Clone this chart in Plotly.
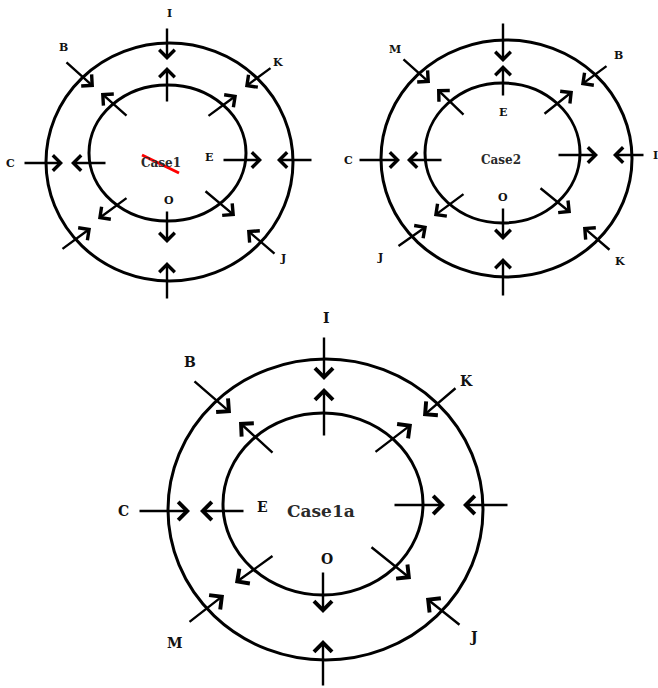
import plotly.graph_objects as go

# ---- Diagram data (pixel-space coordinates) ----
case_names = ["Case1", "Case2", "Case1a"]
case_name_pos = [(161, 163), (501, 160), (321, 511)]
case_name_size = [12, 12, 17]

# outer / inner ellipses: (x0, y0, x1, y1)
outer_rings = [(46, 43, 293, 281), (381, 40, 632, 277), (168, 359, 483, 660)]
inner_rings = [(89, 85, 246, 221), (425, 83, 580, 223), (223, 413, 423, 595)]

# arrows: (x_tail, y_tail, x_head, y_head)
case1_arrows = [
    (167, 27, 167, 60), (167, 103, 167, 67),
    (65, 61, 94, 87), (128, 117, 101, 93),
    (272, 67, 245, 87), (207, 117, 237, 95),
    (23, 163, 63, 163), (107, 163, 71, 163),
    (222, 160, 262, 160), (313, 160, 277, 160),
    (167, 210, 167, 243), (167, 300, 167, 262),
    (128, 197, 98, 219), (61, 250, 91, 228),
    (204, 190, 235, 216), (276, 255, 247, 230),
]
case2_arrows = [
    (503, 22, 503, 62), (503, 97, 503, 65),
    (402, 58, 430, 83), (465, 116, 437, 89),
    (608, 65, 581, 85), (543, 115, 573, 91),
    (358, 160, 400, 160), (443, 160, 407, 160),
    (557, 155, 598, 155), (645, 155, 613, 155),
    (503, 207, 503, 240), (503, 297, 503, 258),
    (465, 193, 434, 216), (397, 247, 427, 226),
    (539, 187, 571, 213), (611, 251, 583, 227),
]
case1a_arrows = [
    (324, 336, 324, 380), (324, 437, 324, 388),
    (193, 380, 231, 413), (274, 454, 239, 422),
    (457, 387, 423, 416), (374, 453, 412, 424),
    (138, 511, 190, 511), (245, 511, 200, 511),
    (393, 505, 445, 505), (509, 505, 463, 505),
    (323, 571, 323, 613), (323, 687, 323, 640),
    (274, 555, 235, 583), (188, 623, 224, 595),
    (370, 546, 411, 579), (461, 626, 426, 598),
]

# point labels
case1_labels = ["I", "B", "K", "C", "E", "O", "J"]
case1_label_pos = [(169, 13), (63, 47), (278, 62), (10, 163), (209, 157), (169, 200), (283, 258)]
case2_labels = ["M", "B", "E", "C", "I", "O", "J", "K"]
case2_label_pos = [(395, 49), (618, 55), (503, 112), (348, 160), (655, 155), (503, 197), (380, 257), (620, 261)]
case1a_labels = ["I", "B", "K", "C", "E", "O", "M", "J"]
case1a_label_pos = [(326, 318), (190, 362), (466, 381), (123, 511), (262, 507), (327, 559), (175, 643), (473, 637)]

strike_line = (142, 155, 179, 173)

FONT = "DejaVu Serif"

fig = go.Figure()
fig.add_trace(go.Scatter(x=[0, 658], y=[0, 688], mode="markers",
                         marker=dict(opacity=0), hoverinfo="skip", showlegend=False))

for rings in (outer_rings, inner_rings):
    for (x0, y0, x1, y1) in rings:
        fig.add_shape(type="circle", xref="x", yref="y", x0=x0, y0=y0, x1=x1, y1=y1,
                      line=dict(color="black", width=3))

for arrows, size in ((case1_arrows, 1.25), (case2_arrows, 1.25), (case1a_arrows, 1.45)):
    for (xt, yt, xh, yh) in arrows:
        fig.add_annotation(x=xh, y=yh, ax=xt, ay=yt, xref="x", yref="y",
                           axref="x", ayref="y", text="", showarrow=True,
                           arrowhead=4, arrowsize=size, arrowwidth=2.4,
                           arrowcolor="black", standoff=0)

for labels, pos, size in ((case1_labels, case1_label_pos, 11),
                          (case2_labels, case2_label_pos, 11),
                          (case1a_labels, case1a_label_pos, 14)):
    for t, (x, y) in zip(labels, pos):
        fig.add_annotation(x=x, y=y, xref="x", yref="y", text=f"<b>{t}</b>",
                           showarrow=False, font=dict(family=FONT, size=size, color="#111"))

for name, (x, y), s in zip(case_names, case_name_pos, case_name_size):
    fig.add_annotation(x=x, y=y, xref="x", yref="y", text=f"<b>{name}</b>",
                       showarrow=False, font=dict(family=FONT, size=s, color="#2a2a2a"))

fig.add_shape(type="line", xref="x", yref="y", x0=strike_line[0], y0=strike_line[1],
              x1=strike_line[2], y1=strike_line[3], line=dict(color="red", width=3))

fig.update_xaxes(range=[0, 658], visible=False, fixedrange=True)
fig.update_yaxes(range=[688, 0], visible=False, fixedrange=True)
fig.update_layout(width=658, height=688, margin=dict(l=0, r=0, t=0, b=0),
                  plot_bgcolor="white", paper_bgcolor="white", showlegend=False)

fig.write_html("out.html", config={"displayModeBar": False},
               post_script="document.body.style.margin='0';document.body.style.overflow='hidden';")
